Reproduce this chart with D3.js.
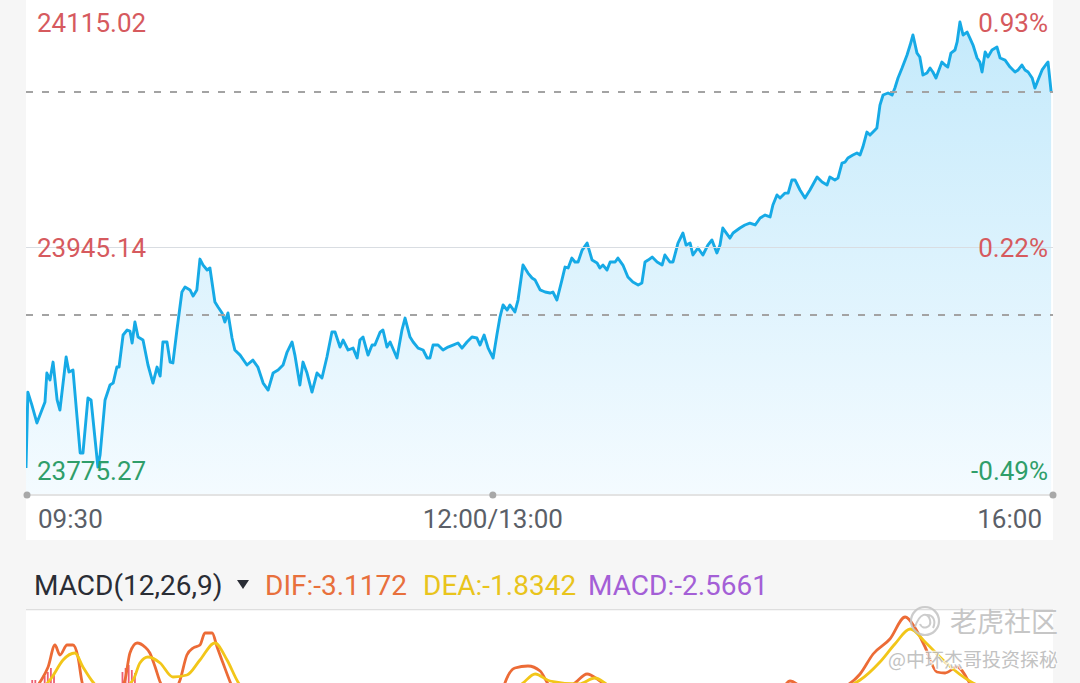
<!DOCTYPE html>
<html><head><meta charset="utf-8">
<script src="https://cdn.jsdelivr.net/npm/d3@7/dist/d3.min.js"></script>
<style>
html,body{margin:0;padding:0;background:#f6f6f6;}
svg{display:block;font-family:Roboto,"Noto Sans",sans-serif;}
</style></head>
<body>
<svg id="c" width="1080" height="683"></svg>
<script>
// ---------- data ----------
// trading minutes since 09:30 (lunch break removed), intraday index level
const priceMinutes = [0,0.6,1.9,3.5,6.1,6.7,7.7,8.7,10.0,10.9,12.9,13.8,15.1,16.4,17.4,18.3,19.9,20.9,23.1,23.8,25.4,27.0,28.0,29.2,29.9,31.2,32.5,33.4,34.1,35.0,36.0,37.6,39.2,40.8,42.1,43.1,44.0,45.3,46.3,47.2,48.5,50.1,51.1,52.7,53.7,54.9,55.9,56.9,58.2,59.1,60.7,61.7,63.0,63.9,64.9,66.2,67.1,68.8,71.0,72.9,74.5,76.2,77.8,79.4,81.0,82.6,83.9,85.5,86.4,88.0,89.0,90.3,91.9,93.5,95.1,96.7,98.3,99.3,100.9,101.9,103.5,105.1,106.4,107.3,108.3,109.9,111.2,112.1,113.8,114.7,116.0,117.0,119.2,120.8,121.8,123.4,124.4,126.0,127.6,128.9,129.8,130.8,132.4,134.0,135.6,137.2,138.8,140.1,141.7,143.3,144.9,145.9,147.2,148.5,150.1,151.3,152.3,153.3,154.6,155.5,157.1,158.1,159.7,161.3,162.6,163.6,165.2,166.8,168.4,169.3,170.6,172.2,173.2,174.2,175.4,176.4,177.4,178.7,180.3,181.9,183.5,184.4,185.4,186.7,187.7,189.3,190.2,191.8,193.4,195.0,196.7,197.9,198.9,199.9,201.2,202.8,204.4,205.3,206.9,207.9,209.5,211.1,212.1,213.4,214.3,215.9,217.5,219.1,220.4,222.0,223.0,223.9,226.2,227.2,229.4,231.0,232.6,234.3,235.9,237.5,239.1,240.0,241.3,242.3,243.9,244.9,246.1,247.1,248.7,250.3,251.9,254.2,255.8,257.4,258.3,259.9,260.9,262.2,263.2,264.1,265.7,267.0,268.0,268.9,270.2,271.2,272.8,273.4,274.4,275.4,277.0,278.3,279.2,280.2,281.5,283.1,284.1,285.0,286.3,287.2,288.2,289.5,290.5,291.4,292.4,294.3,295.3,296.2,297.2,298.5,299.2,300.1,301.1,302.4,303.3,304.3,305.6,306.5,307.2,308.2,309.1,310.4,312.0,313.0,314.6,316.2,317.8,318.8,320.0,321.0,322.0,323.3,324.2,325.2,326.5,328.1,328.4,329.4];
const prices = [23793.8,23845.9,23837.0,23824.7,23839.1,23859.0,23854.2,23866.5,23840.5,23833.6,23870.0,23859.7,23861.0,23828.8,23804.1,23804.1,23841.8,23840.5,23794.5,23802.7,23840.5,23850.8,23852.1,23863.1,23863.1,23885.1,23888.5,23887.8,23879.6,23894.0,23883.7,23881.6,23864.5,23852.1,23863.1,23856.9,23880.3,23880.3,23866.5,23865.9,23888.5,23914.6,23918.0,23916.0,23911.8,23916.0,23937.2,23933.1,23929.7,23931.1,23907.7,23904.3,23900.2,23894.0,23900.2,23883.0,23874.8,23871.3,23864.5,23867.9,23863.1,23852.1,23847.3,23859.0,23861.0,23864.5,23873.4,23880.3,23871.3,23850.8,23866.5,23859.0,23845.9,23859.0,23855.6,23870.0,23887.1,23887.1,23876.8,23881.6,23874.8,23876.1,23869.3,23881.6,23883.7,23871.3,23878.2,23878.2,23887.1,23888.5,23876.8,23880.3,23869.3,23888.5,23896.7,23883.7,23880.3,23876.1,23874.8,23869.3,23869.3,23878.2,23878.2,23874.8,23876.8,23878.2,23879.6,23876.1,23880.3,23883.7,23883.0,23878.2,23885.1,23876.1,23869.3,23885.1,23897.4,23905.7,23902.2,23905.7,23900.9,23909.1,23933.1,23927.6,23924.2,23922.8,23916.0,23914.6,23913.9,23914.6,23909.1,23922.8,23931.7,23931.1,23937.9,23935.2,23935.2,23943.4,23948.2,23936.5,23934.5,23931.1,23933.1,23929.7,23935.2,23935.2,23937.9,23933.1,23924.9,23921.4,23919.4,23920.8,23935.2,23936.5,23938.6,23935.2,23933.1,23940.0,23935.2,23935.2,23948.2,23955.1,23946.8,23948.2,23940.0,23944.8,23940.0,23946.8,23950.3,23941.4,23946.8,23958.5,23951.6,23955.1,23958.5,23960.6,23961.9,23960.6,23965.4,23967.4,23966.1,23974.3,23981.2,23979.1,23982.5,23982.5,23991.5,23991.5,23984.6,23979.1,23984.6,23993.5,23990.1,23988.0,23993.5,23991.5,23992.8,24003.1,24003.8,24006.6,24008.6,24010.0,24008.6,24014.1,24024.4,24022.3,24025.8,24027.1,24042.9,24049.8,24051.2,24049.8,24054.6,24061.5,24068.3,24077.3,24084.1,24091.0,24078.6,24075.9,24063.5,24064.9,24068.3,24065.6,24061.5,24072.4,24070.4,24069.0,24078.6,24080.7,24086.2,24099.9,24091.0,24093.0,24088.9,24084.1,24075.2,24072.4,24065.6,24079.3,24075.9,24080.7,24082.7,24075.2,24073.8,24069.0,24065.6,24067.0,24070.4,24067.0,24065.6,24061.5,24054.6,24060.1,24067.0,24071.8,24072.4,24051.9];

const priceLabels = ["24115.02","23945.14","23775.27"];
const priceLevels = [24115.02, 23945.14, 23775.27];
const pctLabels = ["0.93%","0.22%","-0.49%"];
const dashedLevels = [24051.9, 23898.8];
const timeTicks = [0, 150, 330];
const timeLabels = ["09:30","12:00/13:00","16:00"];

const difMinutes = [0,4.5,7.1,9.3,10.9,13.2,15.1,16.7,18.0,20.6,27.0,31.8,33.4,35.7,38.2,39.8,41.5,43.1,46.3,49.5,51.7,53.7,55.9,57.5,59.8,61.4,63.3,65.6,68.8,88.0,120.2,152.3,153.9,157.1,161.3,165.2,168.4,173.2,176.4,180.3,184.4,187.7,216.6,242.3,245.5,248.7,251.9,261.6,268.0,272.2,277.6,282.5,285.7,288.9,292.7,295.3,299.2,304.3,309.8,329.4];
const difValues = [-0.8,1.0,2.5,4.7,3.7,4.7,4.7,3.5,1.0,-0.8,-1.3,1.2,3.9,4.9,4.5,3.9,2.5,1.0,-0.3,1.2,3.7,4.4,4.7,5.9,5.9,4.5,2.9,1.0,-1.3,-1.8,-1.3,-0.8,0.9,2.4,2.6,2.1,0.6,0.2,0.9,1.8,1.1,0.4,-0.8,0.2,1.1,0.6,0,0.4,1.8,3.8,5.3,7.5,6.4,4.5,2.0,1.9,2.5,0.4,-1.3,-3.1172];
const deaMinutes = [0,8.4,11.9,15.7,18.3,21.5,27.0,34.4,36.6,39.2,43.1,47.2,51.7,55.9,60.7,64.6,68.1,75.2,120.2,158.7,163.6,168.4,177.7,182.8,187.7,216.6,248.7,258.3,268.0,274.4,279.2,284.1,288.9,295.3,304.3,309.8,329.4];
const deaValues = [-1.3,1.5,3.2,3.9,2.5,1.0,-0.3,1.2,2.9,3.5,2.9,1.5,1.7,3.2,4.9,3.2,1.0,-0.8,-1.3,0.7,1.8,1.1,0.8,1.4,0.6,-0.8,0.5,0.2,1.2,3.0,4.8,6.3,5.0,3.0,0.9,0.2,-1.8342];
const macdMinutes = [2,3,6,7,8,9,31,32,33,34,35];
const macdValues = [1.2,1.2,1.6,2.0,2.4,1.9,2.0,2.4,2.7,2.2,1.9];
const legend = {name:"MACD(12,26,9)", dif:"DIF:-3.1172", dea:"DEA:-1.8342", macd:"MACD:-2.5661"};

// ---------- drawing ----------
const svg = d3.select("#c");
const L = 26, R = 1053, T = 0, B = 495;
const x = d3.scaleLinear().domain([0,330]).range([L,R]);
const y = d3.scaleLinear().domain([23775.27, 24115.02]).range([B,T]);

const defs = svg.append("defs");
const grad = defs.append("linearGradient").attr("id","fillG")
  .attr("gradientUnits","userSpaceOnUse").attr("x1",0).attr("y1",T).attr("x2",0).attr("y2",B);
grad.append("stop").attr("offset","0%").attr("stop-color","#c2e9fb");
grad.append("stop").attr("offset","100%").attr("stop-color","#f4fbff");
defs.append("clipPath").attr("id","mainClip").append("rect").attr("x",L).attr("y",0).attr("width",R-L).attr("height",B);
defs.append("clipPath").attr("id","macdClip").append("rect").attr("x",L).attr("y",611).attr("width",R-L).attr("height",72);

// panels
svg.append("rect").attr("x",L).attr("y",0).attr("width",R-L).attr("height",540).attr("fill","#ffffff");
svg.append("rect").attr("x",L).attr("y",611).attr("width",R-L).attr("height",72).attr("fill","#ffffff");
svg.append("line").attr("x1",L).attr("x2",R).attr("y1",609.5).attr("y2",609.5).attr("stroke","#dedede").attr("stroke-width",1);

const pts = priceMinutes.map((m,i)=>[m,prices[i]]);
const g = svg.append("g").attr("clip-path","url(#mainClip)");
g.append("path").datum(pts)
  .attr("d", d3.area().x(d=>x(d[0])).y0(B).y1(d=>y(d[1])))
  .attr("fill","url(#fillG)");

// mid solid grid line
svg.append("line").attr("x1",L).attr("x2",R).attr("y1",y(priceLevels[1])).attr("y2",y(priceLevels[1]))
  .attr("stroke","#d9dde2").attr("stroke-width",1);
// dashed lines
svg.selectAll(".dash").data(dashedLevels).join("line")
  .attr("x1",L).attr("x2",R).attr("y1",d=>y(d)).attr("y2",d=>y(d))
  .attr("stroke","#a3a3a3").attr("stroke-width",2).attr("stroke-dasharray","7 9");

g.append("path").datum(pts)
  .attr("d", d3.line().x(d=>x(d[0])).y(d=>y(d[1])))
  .attr("fill","none").attr("stroke","#16aae6").attr("stroke-width",2.9).attr("stroke-linejoin","round");

// axis line + dots
svg.append("line").attr("x1",L).attr("x2",R).attr("y1",B).attr("y2",B).attr("stroke","#e3e3e3").attr("stroke-width",2);
svg.selectAll(".tdot").data(timeTicks).join("circle")
  .attr("cx",d=>Math.min(Math.max(x(d),L+1),R)).attr("cy",B).attr("r",3.5).attr("fill","#a8a8a8");

// price labels
const red = "#d65a5e", green = "#2f9e6a";
const lblY = [32, 257, 480];
svg.selectAll(".pl").data(priceLabels).join("text")
  .attr("x",37).attr("y",(d,i)=>lblY[i]).text(d=>d)
  .attr("font-size",26).attr("fill",(d,i)=>i===2?green:red);
svg.selectAll(".pc").data(pctLabels).join("text")
  .attr("x",1048).attr("y",(d,i)=>lblY[i]).attr("text-anchor","end").text(d=>d)
  .attr("font-size",26).attr("fill",(d,i)=>i===2?green:red);

// time labels
const anchors = ["start","middle","end"];
svg.selectAll(".tl").data(timeLabels).join("text")
  .attr("x",(d,i)=> i===0 ? 38 : (i===1 ? x(timeTicks[1]) : 1042))
  .attr("y",528).attr("text-anchor",(d,i)=>anchors[i]).text(d=>d)
  .attr("font-size",26).attr("fill","#5b5f68");

// legend
const lg = svg.append("g").attr("font-size",28);
lg.append("text").attr("x",34).attr("y",595).attr("fill","#2a2d35").text(legend.name);
lg.append("path").attr("d","M237,580 L249,580 L243,589 Z").attr("fill","#2a2d35");
lg.append("text").attr("x",265).attr("y",595).attr("fill","#e8703c").text(legend.dif);
lg.append("text").attr("x",423).attr("y",595).attr("fill","#e9c41c").text(legend.dea);
lg.append("text").attr("x",588).attr("y",595).attr("fill","#a45fd6").text(legend.macd);

// MACD panel
const ym = d3.scaleLinear().domain([-6,8]).range([752,612]);
const mg = svg.append("g").attr("clip-path","url(#macdClip)");
mg.selectAll(".bar").data(macdMinutes.map((m,i)=>[m,macdValues[i]])).join("rect")
  .attr("x",d=>x(d[0])-0.9).attr("width",1.8)
  .attr("y",d=>ym(Math.max(0,d[1]))).attr("height",d=>Math.abs(ym(d[1])-ym(0)))
  .attr("fill","#ee5f73");
mg.append("path").datum(difMinutes.map((m,i)=>[m,difValues[i]]))
  .attr("d", d3.line().x(d=>x(d[0])).y(d=>ym(d[1])).curve(d3.curveMonotoneX))
  .attr("fill","none").attr("stroke","#ec6b36").attr("stroke-width",2.8);
mg.append("path").datum(deaMinutes.map((m,i)=>[m,deaValues[i]]))
  .attr("d", d3.line().x(d=>x(d[0])).y(d=>ym(d[1])).curve(d3.curveMonotoneX))
  .attr("fill","none").attr("stroke","#f2c619").attr("stroke-width",2.8);

// watermark
const wm = svg.append("g").attr("opacity",0.85);
wm.append("circle").attr("cx",925).attr("cy",621).attr("r",14).attr("fill","none").attr("stroke","#c4c4c4").attr("stroke-width",2.2);
wm.append("path").attr("d","M915,627 C920,612 928,612 930,620 C932,628 922,630 920,624 M926,615 C934,614 936,622 933,628")
  .attr("fill","none").attr("stroke","#c4c4c4").attr("stroke-width",2);
wm.append("text").attr("x",1058).attr("y",632).attr("text-anchor","end").attr("font-size",27)
  .attr("font-family","'Noto Sans CJK SC'").attr("fill","#bdbdbd").attr("stroke","#ffffff").attr("stroke-width",0.6).attr("paint-order","stroke").text("老虎社区");
wm.append("text").attr("x",1058).attr("y",667).attr("text-anchor","end").attr("font-size",19)
  .attr("font-family","'Noto Sans CJK SC'").attr("fill","#b8b8b8").attr("stroke","#ffffff").attr("stroke-width",2).attr("paint-order","stroke").text("@中环杰哥投资探秘");
</script>
</body></html>
